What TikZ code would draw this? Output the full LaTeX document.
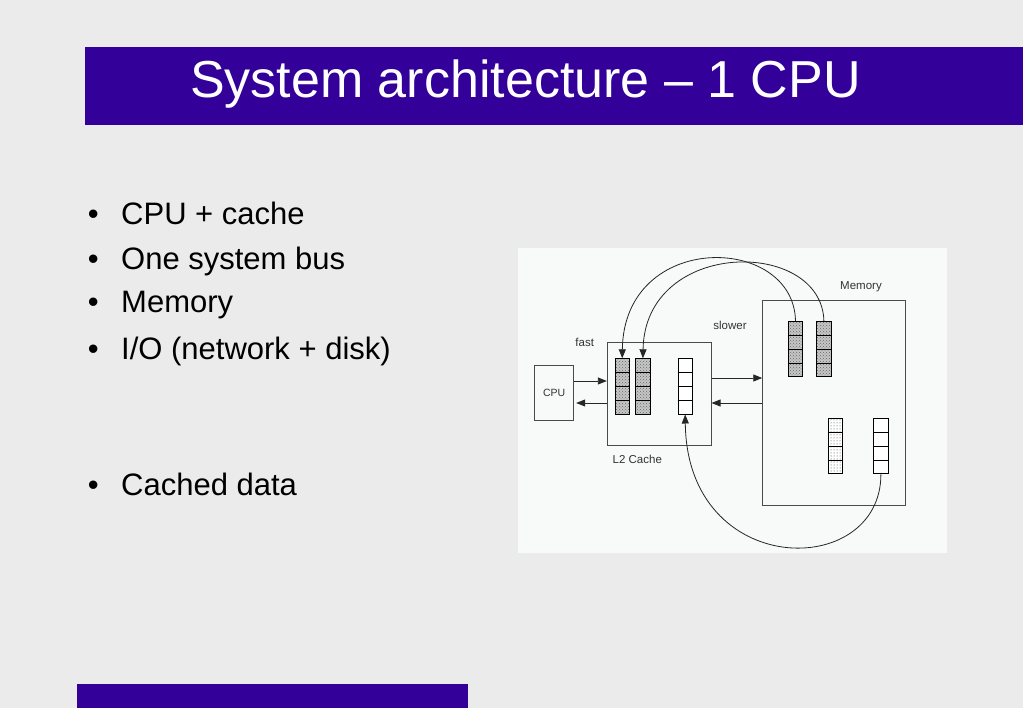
\documentclass[tikz,border=0pt]{standalone}
\usepackage{fontspec}
\setmainfont{Liberation Sans}
\usetikzlibrary{positioning}
\usetikzlibrary{arrows.meta}
\usetikzlibrary{patterns}
\usetikzlibrary{calc}
\usepackage{xcolor}

\definecolor{titleblue}{HTML}{330099}
\definecolor{slidegray}{HTML}{EBEBEB}
\definecolor{panelwhite}{HTML}{F7FAF8}
\definecolor{linegray}{HTML}{4A4A4A}

\begin{document}
\begin{tikzpicture}[x=1pt,y=-1pt,
  box/.style={draw=linegray, line width=1pt, inner sep=0pt},
  col/.style={draw=black, line width=0.9pt, inner sep=0pt, minimum width=14.3pt, minimum height=55.3pt},
  densecol/.style={col, preaction={fill=gray!45}, pattern=crosshatch dots, pattern color=black!60},
  dotcol/.style={col, preaction={fill=white}, pattern=dots, pattern color=black!75},
  plaincol/.style={col, fill=white},
  link/.style={draw=black!85, line width=0.8pt, -{Triangle[length=9pt,width=7pt]}},
  lbl/.style={inner sep=0pt, text=black!80, font=\fontsize{11.5}{13}\selectfont}]

\useasboundingbox (0,0) rectangle (1023,708);
\fill[slidegray] (0,0) rectangle (1023,708);

% title bar and foot bar
\fill[titleblue] (85,47) rectangle (1023,125.5);
\fill[titleblue] (77,684) rectangle (468,708);
\node[anchor=base west, inner sep=0pt, text=white, font=\fontsize{52}{60}\selectfont] (title) at (190,97.5) {System architecture -- 1 CPU};

% bullets
\foreach \yy/\t [count=\i] in {224.3/CPU + cache, 270/One system bus, 312.7/Memory, 360/{I/O (network + disk)}, 495/Cached data}
{
\node[anchor=base, inner sep=0pt, font=\fontsize{31}{36}\selectfont] (dot\i) at (93.3,\yy) {\textbullet};
\node[anchor=base west, inner sep=0pt, font=\fontsize{31}{36}\selectfont] (item\i) at (121,\yy) {\t};
}

% diagram panel
\fill[panelwhite] (518.3,248.3) rectangle (946.7,552.7);

\node[box, minimum width=39pt, minimum height=55pt, font=\fontsize{10.5}{12}\selectfont, text=black!80] (cpu) at (554.2,392.8) {CPU};
\node[box, minimum width=103.7pt, minimum height=103pt] (l2) at (659.2,393.8) {};
\node[box, minimum width=142.3pt, minimum height=204.7pt] (mem) at (833.9,402.7) {};

\node[lbl] (fastlbl) at (584.7,342.3) {fast};
\node[lbl] (slowlbl) at (730,325.7) {slower};
\node[lbl] (memlbl) at (861,286.3) {Memory};
\node[lbl] (l2lbl) at (637.3,459.7) {L2 Cache};

% cache lines
\node[densecol] (lc1) at (622.2,386.4) {};
\node[densecol] (lc2) at (642.9,386.4) {};
\node[plaincol] (lc3) at (685.2,386.4) {};
\node[densecol] (mc1) at (795.5,349.2) {};
\node[densecol] (mc2) at (823.9,349.2) {};
\node[dotcol] (mc3) at (835.5,446.2) {};
\node[plaincol] (mc4) at (880.9,446.2) {};

\foreach \c in {lc1,lc2,lc3,mc1,mc2,mc3,mc4}
\foreach \k in {1,2,3}
\draw[black, line width=0.9pt] ($(\c.north west)!\k/4!(\c.south west)$) -- ($(\c.north east)!\k/4!(\c.south east)$);

% buses
\draw[link] (cpu.east |- 0,381) -- (l2.west |- 0,381);
\draw[link, shorten >=2pt] (l2.west |- 0,403) -- (cpu.east |- 0,403);
\draw[link] (l2.east |- 0,378) -- (mem.west |- 0,378);
\draw[link] (mem.west |- 0,403) -- (l2.east |- 0,403);

% copies
\draw[link] (mc1.north) .. controls (794,234) and (624,230) .. (lc1.north);
\draw[link] (mc2.north) .. controls (822,238) and (645,238) .. (lc2.north);
\draw[link] (mc4.south) .. controls (881,580) and (687,580) .. (lc3.south);

\end{tikzpicture}
\end{document}
